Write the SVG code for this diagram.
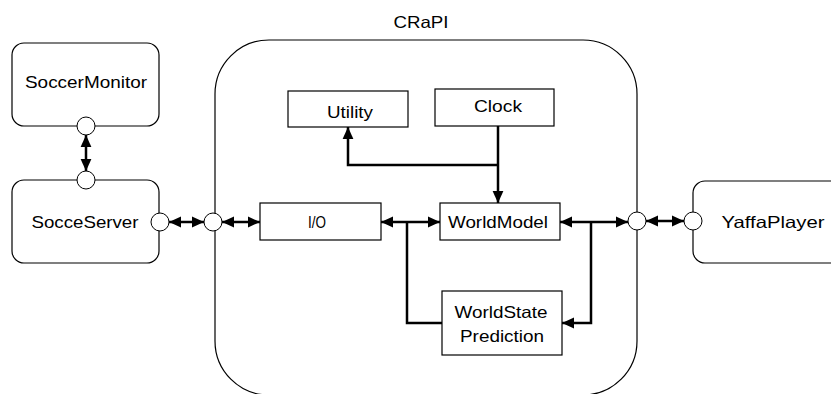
<svg xmlns="http://www.w3.org/2000/svg" width="831" height="394" viewBox="0 0 831 394">
<style>
text{font-family:"Liberation Sans",Arial,sans-serif;font-size:16.5px;fill:#000;text-anchor:middle}
.box{fill:#fff;stroke:#000;stroke-width:1.2}
.port{fill:#fff;stroke:#000;stroke-width:1}
.c{fill:none;stroke:#000;stroke-width:2.5}
</style>
<defs>
<marker id="ah" markerUnits="userSpaceOnUse" markerWidth="12" markerHeight="12" viewBox="0 0 10 10" refX="10" refY="5" orient="auto-start-reverse">
<path d="M0,0.5 L10,5 L0,9.5 Z" fill="#000"/>
</marker>
</defs>
<rect width="831" height="394" fill="#fff"/>
<g id="crapi">
<rect x="215" y="40" width="422" height="355" rx="54" ry="54" class="box"/>
<text x="421" y="28" textLength="55" lengthAdjust="spacingAndGlyphs">CRaPI</text>
</g>
<g id="soccermonitor">
<rect x="12" y="43" width="147" height="83" rx="12" class="box"/>
<text x="86" y="88" textLength="122" lengthAdjust="spacingAndGlyphs">SoccerMonitor</text>
<circle cx="86" cy="126" r="9" class="port"/>
</g>
<g id="socceserver">
<rect x="12" y="180" width="147" height="83" rx="12" class="box"/>
<text x="85" y="228" textLength="107" lengthAdjust="spacingAndGlyphs">SocceServer</text>
<circle cx="86" cy="180" r="9" class="port"/>
<circle cx="160" cy="222" r="9" class="port"/>
</g>
<g id="yaffaplayer">
<rect x="693" y="181" width="160" height="82" rx="12" class="box"/>
<text x="773" y="228" textLength="103" lengthAdjust="spacingAndGlyphs">YaffaPlayer</text>
<circle cx="693" cy="221" r="9" class="port"/>
</g>
<g id="utility">
<rect x="288" y="91" width="120" height="36" class="box"/>
<text x="350" y="118" textLength="46" lengthAdjust="spacingAndGlyphs">Utility</text>
</g>
<g id="clock">
<rect x="435" y="89" width="119" height="37" class="box"/>
<text x="498" y="112" textLength="48" lengthAdjust="spacingAndGlyphs">Clock</text>
</g>
<g id="io">
<rect x="260" y="203" width="121" height="37" class="box"/>
<text x="317" y="228" textLength="18" lengthAdjust="spacingAndGlyphs">I/O</text>
</g>
<g id="worldmodel">
<rect x="440" y="203" width="120" height="37" class="box"/>
<text x="498" y="228" textLength="100" lengthAdjust="spacingAndGlyphs">WorldModel</text>
</g>
<g id="worldstateprediction">
<rect x="442" y="291" width="120" height="64" class="box"/>
<text x="501" y="318" textLength="93" lengthAdjust="spacingAndGlyphs">WorldState</text>
<text x="502" y="342" textLength="84" lengthAdjust="spacingAndGlyphs">Prediction</text>
</g>
<g id="crapi-ports">
<circle cx="213" cy="222" r="9" class="port"/>
<circle cx="637" cy="221" r="9" class="port"/>
</g>
<g id="connectors">
<line x1="86" y1="135" x2="86" y2="171" class="c" marker-start="url(#ah)" marker-end="url(#ah)"/>
<line x1="169" y1="222" x2="204" y2="222" class="c" marker-start="url(#ah)" marker-end="url(#ah)"/>
<line x1="222" y1="222" x2="260" y2="222" class="c" marker-start="url(#ah)" marker-end="url(#ah)"/>
<line x1="381" y1="222" x2="440" y2="222" class="c" marker-start="url(#ah)" marker-end="url(#ah)"/>
<path d="M407,222 V323 H442" class="c"/>
<line x1="560" y1="222" x2="628" y2="222" class="c" marker-start="url(#ah)" marker-end="url(#ah)"/>
<path d="M591,222 V323 H562" class="c" marker-end="url(#ah)"/>
<line x1="646" y1="221" x2="684" y2="221" class="c" marker-start="url(#ah)" marker-end="url(#ah)"/>
<line x1="498" y1="126" x2="498" y2="203" class="c" marker-end="url(#ah)"/>
<path d="M498,165 H348 V127" class="c" marker-end="url(#ah)"/>
</g>
</svg>
